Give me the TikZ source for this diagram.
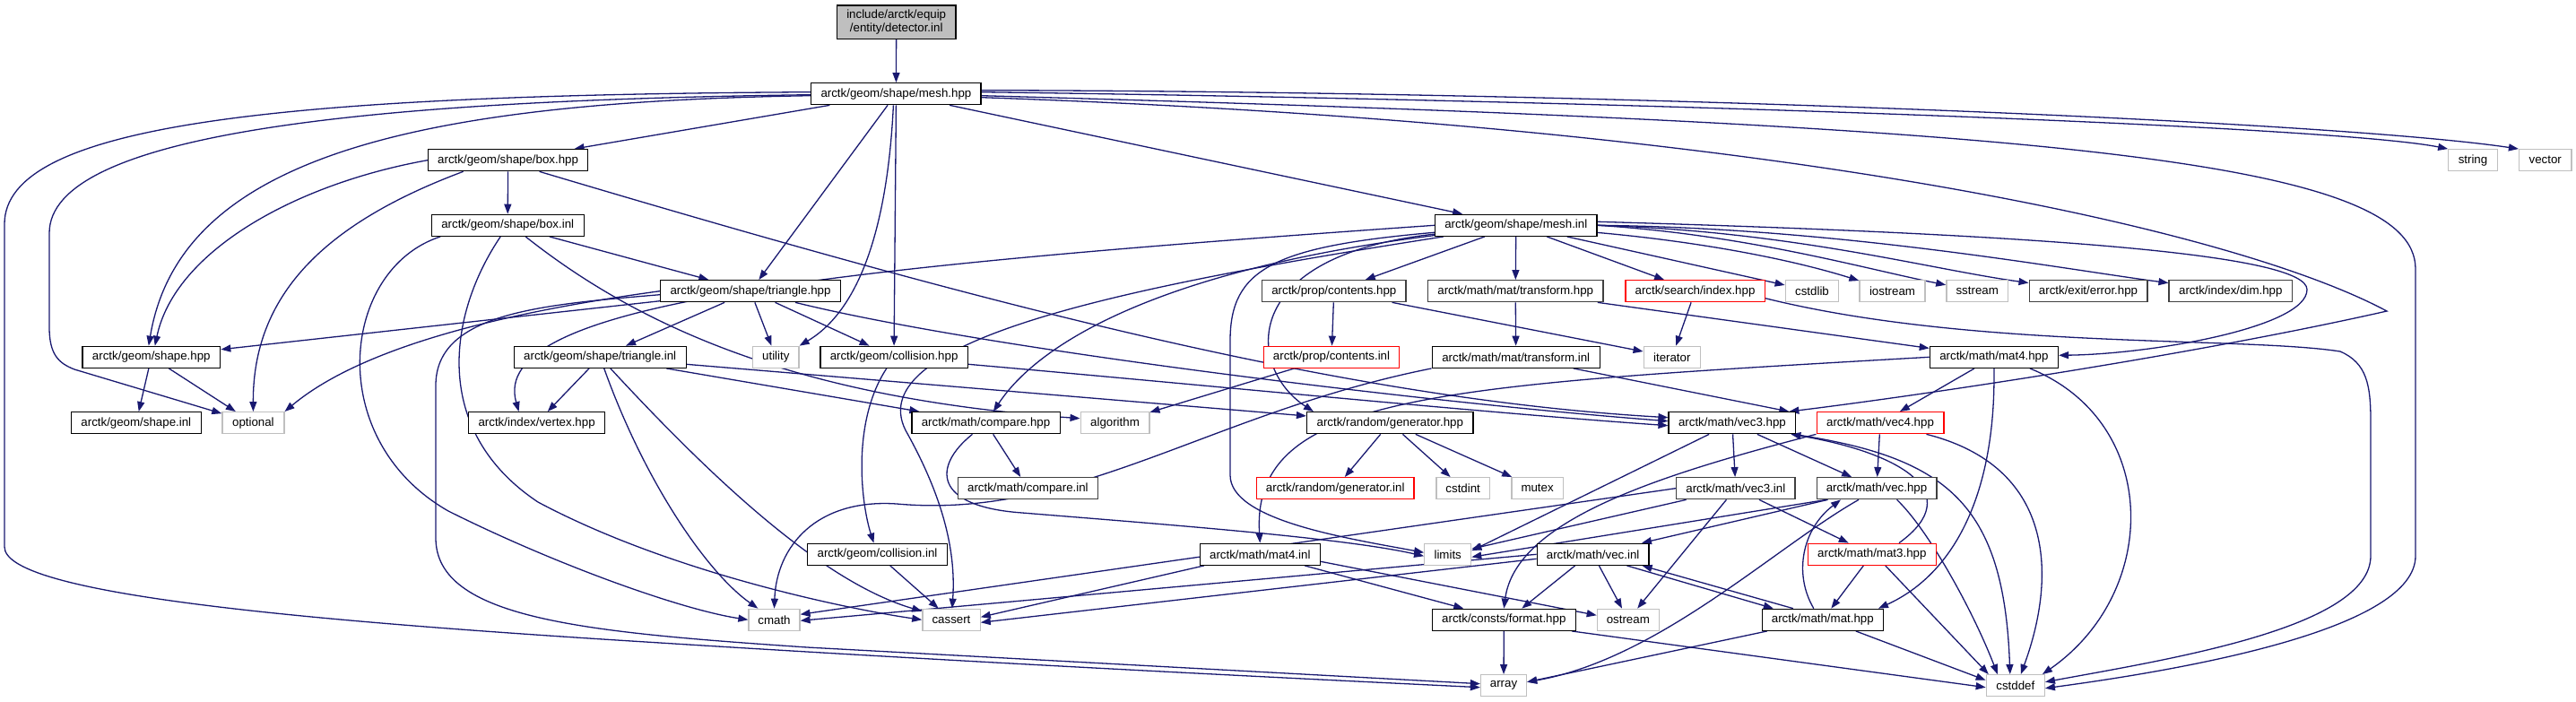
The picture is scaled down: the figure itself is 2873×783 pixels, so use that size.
\documentclass[tikz,border=0pt]{standalone}
\usepackage{fontspec}
\setmainfont{Liberation Sans}
\usetikzlibrary{arrows.meta,backgrounds}
\definecolor{eblue}{HTML}{191970}
\definecolor{sysgray}{HTML}{BFBFBF}
\definecolor{docgray}{HTML}{404040}
\definecolor{rootfill}{HTML}{BFBFBF}
\definecolor{redline}{HTML}{FF0000}
\tikzset{
  nd/.style={draw=black, line width=1.3pt, fill=white, minimum height=24pt, inner sep=0pt,
    font=\fontsize{13.3}{14.5}\selectfont, text=black},
  grynd/.style={nd, draw=docgray},
  sysnd/.style={nd, draw=sysgray},
  rednd/.style={nd, draw=redline},
  conn/.style={draw=eblue, line width=1.3pt, -{Triangle[length=11pt,width=8pt]}},
}
\begin{document}
\begin{tikzpicture}[x=1pt,y=-1pt]
\useasboundingbox (0,0) rectangle (2873,783);
% row 0-1
\node[nd, fill=rootfill, minimum width=132.7pt, minimum height=37.3pt, align=center] (det) at (999.7,24.7) {include/arctk/equip\\/entity/detector.inl};
\node[nd, minimum width=189.2pt] (meshhpp) at (999.4,104.7) {arctk/geom/shape/mesh.hpp};
% row 2
\node[nd, minimum width=178.2pt] (boxhpp) at (566.6,178.7) {arctk/geom/shape/box.hpp};
\node[sysnd, minimum width=54.5pt] (string) at (2758,178.7) {string};
\node[sysnd, minimum width=58.3pt] (vector) at (2838.7,178.7) {vector};
% row 3
\node[nd, minimum width=169.9pt] (boxinl) at (566.2,251.3) {arctk/geom/shape/box.inl};
\node[nd, minimum width=180.3pt] (meshinl) at (1690.8,251.3) {arctk/geom/shape/mesh.inl};
% row 4
\node[nd, minimum width=200.7pt] (trihpp) at (837,324.7) {arctk/geom/shape/triangle.hpp};
\node[grynd, minimum width=160.4pt] (contentshpp) at (1487.8,324.7) {arctk/prop/contents.hpp};
\node[grynd, minimum width=195.4pt] (transformhpp) at (1690.2,324.7) {arctk/math/mat/transform.hpp};
\node[rednd, minimum width=155.3pt] (searchhpp) at (1890.5,324.7) {arctk/search/index.hpp};
\node[sysnd, minimum width=59.5pt] (cstdlib) at (2021,324.7) {cstdlib};
\node[sysnd, minimum width=73pt] (iostream) at (2110.5,324.7) {iostream};
\node[sysnd, minimum width=68.7pt] (sstream) at (2205.2,324.7) {sstream};
\node[grynd, minimum width=131.7pt] (errorhpp) at (2329,324.7) {arctk/exit/error.hpp};
\node[grynd, minimum width=137.4pt] (dimhpp) at (2487.8,324.7) {arctk/index/dim.hpp};
% row 5
\node[nd, minimum width=153.8pt] (shapehpp) at (168.8,398.3) {arctk/geom/shape.hpp};
\node[nd, minimum width=192pt] (triinl) at (669.2,398.3) {arctk/geom/shape/triangle.inl};
\node[sysnd, minimum width=51.4pt] (utility) at (865.3,398.3) {utility};
\node[nd, minimum width=164.4pt] (collhpp) at (997.1,398.3) {arctk/geom/collision.hpp};
\node[rednd, minimum width=151pt] (contentsinl) at (1485,398.3) {arctk/prop/contents.inl};
\node[nd, minimum width=186.9pt] (transforminl) at (1690.7,398.3) {arctk/math/mat/transform.inl};
\node[sysnd, minimum width=63.2pt] (iterator) at (1864.8,398.3) {iterator};
\node[nd, minimum width=143.1pt] (mat4hpp) at (2223.9,398.3) {arctk/math/mat4.hpp};
% row 6
\node[nd, minimum width=144.7pt] (shapeinl) at (151.8,471.7) {arctk/geom/shape.inl};
\node[sysnd, minimum width=68.9pt] (optional) at (282.4,471.7) {optional};
\node[nd, minimum width=152pt] (vertex) at (598.6,471.7) {arctk/index/vertex.hpp};
\node[nd, minimum width=165.3pt] (compare) at (1099.5,471.7) {arctk/math/compare.hpp};
\node[sysnd, minimum width=76.7pt] (algorithm) at (1243.5,471.7) {algorithm};
\node[nd, minimum width=185.5pt] (randgen) at (1550.3,471.7) {arctk/random/generator.hpp};
\node[nd, minimum width=141.6pt] (vec3hpp) at (1931.9,471.7) {arctk/math/vec3.hpp};
\node[rednd, minimum width=141.7pt] (vec4hpp) at (2097,471.7) {arctk/math/vec4.hpp};
% row 7
\node[grynd, minimum width=156.1pt] (compareinl) at (1146.4,544.7) {arctk/math/compare.inl};
\node[rednd, minimum width=175.6pt] (randgeninl) at (1489.2,544.7) {arctk/random/generator.inl};
\node[sysnd, minimum width=59.5pt] (cstdint) at (1631.7,544.7) {cstdint};
\node[sysnd, minimum width=57.1pt] (mutex) at (1714.6,544.7) {mutex};
\node[grynd, minimum width=132.6pt] (vec3inl) at (1935.8,544.7) {arctk/math/vec3.inl};
\node[grynd, minimum width=133.7pt] (vechpp) at (2093,544.7) {arctk/math/vec.hpp};
% row 8
\node[nd, minimum width=155.7pt] (collinl) at (978.5,618.3) {arctk/geom/collision.inl};
\node[nd, minimum width=133.9pt] (mat4inl) at (1405.3,618.3) {arctk/math/mat4.inl};
\node[sysnd, minimum width=51.9pt] (limits) at (1614.7,618.3) {limits};
\node[nd, minimum width=124.6pt] (vecinl) at (1776.6,618.3) {arctk/math/vec.inl};
\node[rednd, minimum width=143pt] (mat3hpp) at (2087.8,618.3) {arctk/math/mat3.hpp};
% row 9
\node[sysnd, minimum width=56.9pt] (cmath) at (863.5,691.3) {cmath};
\node[sysnd, minimum width=64.3pt] (cassert) at (1061,691.3) {cassert};
\node[nd, minimum width=160pt] (formathpp) at (1677.3,691.3) {arctk/consts/format.hpp};
\node[sysnd, minimum width=68.9pt] (ostream) at (1815.8,691.3) {ostream};
\node[nd, minimum width=135pt] (mathpp) at (2032.8,691.3) {arctk/math/mat.hpp};
% row 10
\node[sysnd, minimum width=51pt] (array) at (1677,764.7) {array};
\node[sysnd, minimum width=65pt] (cstddef) at (2247.8,764.7) {cstddef};

\begin{scope}[on background layer]
% detector / mesh.hpp
\draw[conn] (det) -- (meshhpp);
\draw[conn] (meshhpp) -- (boxhpp);
\draw[conn] ([yshift=-2pt]meshhpp.west) .. controls (450,114) and (200,180) .. ([xshift=-3pt]shapehpp.north);
\draw[conn] ([yshift=-1pt]meshhpp.west) .. controls (400,112) and (55,150) .. (55,260) -- (55,365) .. controls (55,395) and (65,405) .. (83,412) -- (optional);
\draw[conn] ([yshift=2pt]meshhpp.west) .. controls (300,106) and (5,140) .. (5,250) -- (5,610) .. controls (5,660) and (300,690) .. (720,716) .. controls (1100,740) and (1450,757) .. ([yshift=-2pt]array.west);
\draw[conn] (meshhpp) -- (trihpp);
\draw[conn] ([xshift=-3pt]meshhpp.south) .. controls (990,250) and (960,345) .. (utility.north east);
\draw[conn] (meshhpp.south) -- (collhpp.north);
\draw[conn] (meshhpp) -- (meshinl);
\draw[conn] ([yshift=2pt]meshhpp.east) .. controls (1800,112) and (2600,140) .. (string.north west);
\draw[conn] ([yshift=4pt]meshhpp.east) .. controls (1800,102) and (2600,135) .. (vector.north west);
\draw[conn] ([yshift=-2pt]meshhpp.east) .. controls (2300,140) and (2694,180) .. (2694,300) -- (2694,620) .. controls (2694,700) and (2450,745) .. ([yshift=-3pt]cstddef.east);
\draw[conn] ([yshift=-4pt]meshhpp.east) .. controls (2000,140) and (2500,260) .. (2662,347) .. controls (2450,395) and (2150,440) .. ([xshift=-8pt]vec3hpp.north east);
% box.hpp
\draw[conn] (boxhpp) -- (boxinl);
\draw[conn] (boxhpp.west) .. controls (330,205) and (195,280) .. ([xshift=4pt]shapehpp.north);
\draw[conn] ([xshift=-50pt]boxhpp.south) .. controls (360,250) and (282,330) .. (optional.north);
\draw[conn] ([xshift=35pt]boxhpp.south) .. controls (1100,340) and (1500,445) .. ([yshift=6pt]vec3hpp.west);
% box.inl
\draw[conn] (boxinl) -- (trihpp);
\draw[conn] ([xshift=20pt]boxinl.south) .. controls (720,370) and (900,445) .. ([yshift=5pt]algorithm.west);
\draw[conn] ([xshift=-75pt]boxinl.south) .. controls (380,300) and (360,490) .. (500,570) .. controls (620,630) and (760,680) .. (cmath.west);
\draw[conn] ([xshift=-8pt]boxinl.south) .. controls (500,350) and (480,480) .. (600,560) .. controls (750,640) and (950,680) .. (cassert.west);
% triangle.hpp
\draw[conn] (trihpp) -- (shapehpp);
\draw[conn] (trihpp.west) .. controls (550,350) and (400,390) .. (optional.north east);
\draw[conn] ([yshift=-4pt]trihpp.west) .. controls (600,340) and (486,350) .. (486,430) -- (486,600) .. controls (486,690) and (650,705) .. (900,722) -- ([yshift=2pt]array.west);
\draw[conn] (trihpp) -- (triinl);
\draw[conn] (trihpp) -- (utility);
\draw[conn] (trihpp) -- (collhpp);
\draw[conn] ([xshift=50pt]trihpp.south) .. controls (1100,390) and (1600,450) .. ([yshift=2pt]vec3hpp.west);
% collision
\draw[conn] ([yshift=-8pt]collhpp.east) .. controls (1350,430) and (1650,460) .. ([yshift=-3pt]vec3hpp.west);
\draw[conn] (collhpp) .. controls (950,470) and (960,560) .. (collinl);
\draw[conn] (collinl) -- (cassert);
% triangle.inl
\draw[conn] (triinl) -- (vertex);
\draw[conn] (triinl) -- (compare);
\draw[conn] (triinl) -- (randgen);
\draw[conn] (triinl) .. controls (720,540) and (790,640) .. (cmath);
\draw[conn] (triinl) .. controls (800,540) and (920,650) .. (cassert);
% shape.hpp
\draw[conn] (shapehpp) -- (shapeinl);
\draw[conn] (shapehpp) -- (optional);
% mesh.inl
\draw[conn] (meshinl) -- (contentshpp);
\draw[conn] (meshinl) -- (transformhpp);
\draw[conn] (meshinl) -- (searchhpp);
\draw[conn] (meshinl) -- (cstdlib);
\draw[conn] (meshinl) .. controls (1900,270) and (2000,290) .. (iostream);
\draw[conn] (meshinl.east) .. controls (1950,262) and (2080,300) .. (sstream);
\draw[conn] (meshinl.east) .. controls (2000,258) and (2150,300) .. (errorhpp);
\draw[conn] (meshinl.east) .. controls (2050,254) and (2300,300) .. (dimhpp);
\draw[conn] ([yshift=4pt]meshinl.east) .. controls (2300,262) and (2573,285) .. (2573,323) .. controls (2573,365) and (2400,395) .. ([yshift=2pt]mat4hpp.east);
\draw[conn] (meshinl) .. controls (1380,285) and (1390,410) .. ([xshift=8pt]randgen.north west);
\draw[conn] (meshinl) .. controls (1300,300) and (1160,380) .. (compare);
\draw[conn] (meshinl) .. controls (1250,320) and (960,380) .. (1010,480) .. controls (1055,560) and (1066,620) .. (cassert);
\draw[conn] (meshinl) .. controls (1420,275) and (1372,300) .. (1372,380) -- (1372,530) .. controls (1372,580) and (1500,600) .. ([yshift=2pt]limits.west);
\draw[conn] (meshinl.west) .. controls (900,300) and (545,340) .. ([xshift=-20pt]vertex.north);
% prop / transform / search
\draw[conn] (contentshpp) -- (contentsinl);
\draw[conn] (contentshpp) -- (iterator);
\draw[conn] (contentsinl) -- (algorithm);
\draw[conn] (searchhpp) -- (iterator);
\draw[conn] ([yshift=-8pt]searchhpp.east) .. controls (2200,390) and (2500,375) .. (2610,392) .. controls (2640,405) and (2644,430) .. (2644,470) -- (2644,620) .. controls (2644,700) and (2420,735) .. ([yshift=4pt]cstddef.east);
\draw[conn] (transformhpp) -- (transforminl);
\draw[conn] (transformhpp) -- (mat4hpp);
\draw[conn] ([xshift=-30pt]transforminl.south east) -- ([xshift=-8pt]vec3hpp.north east);
\draw[conn] (transforminl.south west) .. controls (1350,460) and (1200,580) .. (1000,562) .. controls (910,556) and (866,610) .. (cmath.north);
% random / compare
\draw[conn] (randgen) -- (randgeninl);
\draw[conn] (randgen) -- (cstdint);
\draw[conn] (randgen) -- (mutex);
\draw[conn] (compare) -- (compareinl);
\draw[conn] ([xshift=-15pt]compare.south) .. controls (1040,520) and (1040,565) .. (1140,572) .. controls (1300,585) and (1500,600) .. ([yshift=-2pt]limits.west);
% mat4.hpp
\draw[conn] (mat4hpp.west) .. controls (1600,430) and (1395,440) .. (mat4inl.north);
\draw[conn] (mat4hpp) -- (vec4hpp);
\draw[conn] (mat4hpp.south) .. controls (2226,550) and (2180,640) .. ([xshift=-6pt]mathpp.north east);
\draw[conn] ([xshift=40pt]mat4hpp.south) .. controls (2410,470) and (2410,660) .. ([xshift=-3pt]cstddef.north east);
% vec3.hpp
\draw[conn] (vec3hpp) -- (vec3inl);
\draw[conn] (vec3hpp) -- (vechpp);
\draw[conn] (vec3hpp) -- ([yshift=4pt]limits.east);
\draw[conn] ([xshift=-3pt]vec3hpp.south east) .. controls (2170,510) and (2235,560) .. ([xshift=-6pt]cstddef.north);
\draw[conn] ([xshift=-42pt]mat3hpp.north east) .. controls (2195,550) and (2120,505) .. ([xshift=-6pt]vec3hpp.south east);
% vec3.inl
\draw[conn] (vec3inl) -- (limits);
\draw[conn] (vec3inl.west) -- ([yshift=6pt]cmath.east);
\draw[conn] (vec3inl) -- (ostream);
\draw[conn] (vec3inl) -- (mat3hpp);
% vec4.hpp
\draw[conn] (vec4hpp) -- (vechpp);
\draw[conn] ([xshift=-20pt]vec4hpp.south east) .. controls (2290,520) and (2295,640) .. ([xshift=6pt]cstddef.north);
\draw[conn] (vec4hpp.south west) .. controls (1850,530) and (1690,580) .. (formathpp.north);
% vec.hpp
\draw[conn] (vechpp) -- (vecinl);
\draw[conn] ([xshift=-56pt]vechpp.south) -- ([yshift=-3pt]limits.east);
\draw[conn] ([xshift=-20pt]vechpp.south) .. controls (1980,610) and (1850,735) .. ([yshift=4pt]array.east);
\draw[conn] ([xshift=-45pt]vechpp.south east) .. controls (2150,590) and (2200,680) .. ([xshift=-20pt]cstddef.north);
% mat3.hpp
\draw[conn] (mat3hpp) -- (mathpp);
\draw[conn] ([xshift=15pt]mat3hpp.south) -- ([xshift=-30pt]cstddef.north);
% mat.hpp
\draw[conn] ([xshift=-10pt]mathpp.north) .. controls (2000,640) and (2010,590) .. ([xshift=-40pt]vechpp.south);
\draw[conn] ([xshift=-33pt]mathpp.north) -- ([xshift=-8pt]vecinl.south east);
\draw[conn] ([xshift=-25pt]vecinl.south east) -- ([xshift=-55pt]mathpp.north);
\draw[conn] ([xshift=-62pt]mathpp.south) -- ([yshift=4pt]array.east);
\draw[conn] ([xshift=37pt]mathpp.south) -- ([yshift=6pt]cstddef.west);
% vec.inl
\draw[conn] ([xshift=-20pt]vecinl.south) -- ([xshift=20pt]formathpp.north);
\draw[conn] (vecinl) -- (ostream);
\draw[conn] (vecinl.west) -- ([yshift=-1pt]cmath.east);
\draw[conn] ([yshift=-5pt]vecinl.west) -- ([yshift=-3pt]cassert.east);
% format / mat4.inl
\draw[conn] (formathpp) -- (array);
\draw[conn] ([xshift=-5pt]formathpp.south east) -- ([yshift=-2pt]cstddef.west);
\draw[conn] ([xshift=5pt]mat4inl.south west) -- ([yshift=3pt]cassert.east);
\draw[conn] ([xshift=50pt]mat4inl.south) -- ([xshift=-45pt]formathpp.north);
\draw[conn] ([yshift=-8pt]mat4inl.east) -- ([yshift=5pt]ostream.west);
\end{scope}
\end{tikzpicture}
\end{document}
